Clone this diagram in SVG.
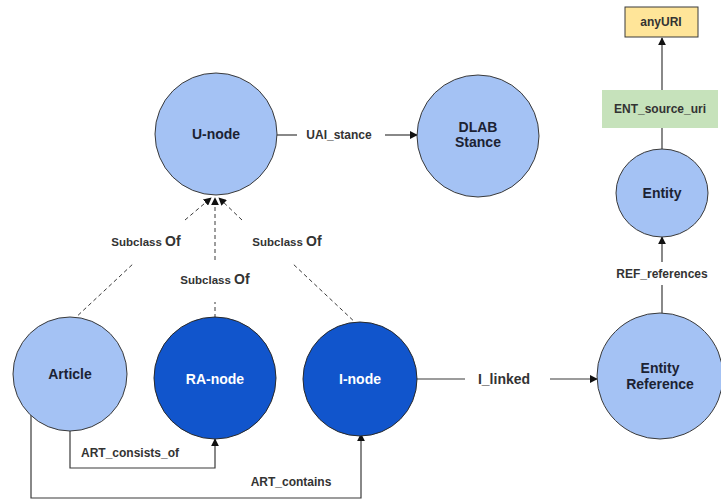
<svg xmlns="http://www.w3.org/2000/svg" width="721" height="500" viewBox="0 0 721 500">
  <style>
    .light { fill: #a4c2f4; stroke: #3a3a3a; stroke-width: 1; }
    .dark { fill: #1155cc; stroke: #2a2a2a; stroke-width: 1; }
    .nlabel { font-family: "Liberation Sans", Arial, sans-serif; font-size: 14px; font-weight: bold; fill: #1c2233; text-anchor: middle; }
    .wlabel { font-family: "Liberation Sans", Arial, sans-serif; font-size: 14px; font-weight: bold; fill: #ffffff; text-anchor: middle; }
    .elabel { font-family: "Liberation Sans", Arial, sans-serif; font-size: 12px; font-weight: bold; fill: #333333; text-anchor: middle; }
    .big { font-size: 14px; }
    .sub { font-family: "Liberation Sans", Arial, sans-serif; font-size: 11.5px; font-weight: bold; fill: #333333; text-anchor: middle; }
    .of { font-size: 14px; }
    .edge { fill: none; stroke: #3a3a3a; stroke-width: 1.2; }
    .dash { fill: none; stroke: #3a3a3a; stroke-width: 1; stroke-dasharray: 4 3; }
  </style>
  <defs>
    <marker id="arrow" viewBox="0 0 10 10" refX="9" refY="5" markerWidth="8" markerHeight="8" markerUnits="userSpaceOnUse" orient="auto">
      <path d="M0,0 L10,5 L0,10 z" fill="#111111"/>
    </marker>
  </defs>
  <rect width="721" height="500" fill="#ffffff"/>

  <g id="connectors">
    <!-- U-node to DLAB Stance -->
    <line class="edge" x1="277" y1="135" x2="297" y2="135"/>
    <line class="edge" x1="385" y1="135" x2="417" y2="135" marker-end="url(#arrow)"/>
    <text class="elabel" x="339" y="139">UAI_stance</text>

    <!-- Subclass Of: Article -->
    <line class="dash" x1="73" y1="320" x2="134" y2="263"/>
    <line class="dash" x1="185" y1="220" x2="211" y2="198" marker-end="url(#arrow)"/>
    <text class="sub" x="146" y="246">Subclass <tspan class="of">Of</tspan></text>

    <!-- Subclass Of: RA-node -->
    <line class="dash" x1="215" y1="318" x2="215" y2="302"/>
    <line class="dash" x1="215" y1="260" x2="215" y2="198" marker-end="url(#arrow)"/>
    <text class="sub" x="215" y="284">Subclass <tspan class="of">Of</tspan></text>

    <!-- Subclass Of: I-node -->
    <line class="dash" x1="358" y1="325" x2="292" y2="263"/>
    <line class="dash" x1="242" y1="220" x2="219" y2="198" marker-end="url(#arrow)"/>
    <text class="sub" x="287" y="246">Subclass <tspan class="of">Of</tspan></text>

    <!-- I_linked -->
    <line class="edge" x1="417" y1="379" x2="465" y2="379"/>
    <line class="edge" x1="550" y1="379" x2="597" y2="379" marker-end="url(#arrow)"/>
    <text class="elabel big" x="504" y="384">I_linked</text>

    <!-- ART_consists_of -->
    <polyline class="edge" points="70,427 70,468 215,468 215,439" marker-end="url(#arrow)"/>
    <text class="elabel" x="130" y="457">ART_consists_of</text>

    <!-- ART_contains -->
    <polyline class="edge" points="31,411 31,498 361,498 361,434" marker-end="url(#arrow)"/>
    <text class="elabel" x="291" y="486">ART_contains</text>

    <!-- REF_references -->
    <line class="edge" x1="662" y1="313" x2="662" y2="285"/>
    <line class="edge" x1="662" y1="262" x2="662" y2="237" marker-end="url(#arrow)"/>
    <text class="elabel" x="662" y="278">REF_references</text>

    <!-- ENT_source_uri -->
    <line class="edge" x1="662" y1="150" x2="662" y2="128"/>
    <line class="edge" x1="662" y1="90" x2="662" y2="38" marker-end="url(#arrow)"/>
  </g>

  <g id="ent-source-uri">
    <rect x="602" y="90" width="116" height="38" fill="#c6e2bb"/>
    <text class="elabel" x="660" y="113">ENT_source_uri</text>
  </g>

  <g id="anyuri">
    <rect x="625" y="7" width="73" height="30" fill="#ffe599" stroke="#3a3a3a" stroke-width="1"/>
    <text class="elabel" x="661" y="26">anyURI</text>
  </g>

  <g id="u-node">
    <circle class="light" cx="216" cy="134" r="61"/>
    <text class="nlabel" x="216" y="139">U-node</text>
  </g>

  <g id="dlab-stance">
    <circle class="light" cx="478" cy="136" r="61"/>
    <text class="nlabel" x="478" y="132">DLAB</text>
    <text class="nlabel" x="478" y="147">Stance</text>
  </g>

  <g id="entity">
    <ellipse class="light" cx="662" cy="193" rx="46" ry="44"/>
    <text class="nlabel" x="662" y="198">Entity</text>
  </g>

  <g id="entity-reference">
    <circle class="light" cx="660" cy="376" r="63"/>
    <text class="nlabel" x="660" y="373">Entity</text>
    <text class="nlabel" x="660" y="389">Reference</text>
  </g>

  <g id="article">
    <circle class="light" cx="70" cy="374" r="57"/>
    <text class="nlabel" x="70" y="379">Article</text>
  </g>

  <g id="ra-node">
    <circle class="dark" cx="215" cy="378" r="61"/>
    <text class="wlabel" x="215" y="384">RA-node</text>
  </g>

  <g id="i-node">
    <circle class="dark" cx="360" cy="379" r="57"/>
    <text class="wlabel" x="360" y="384">I-node</text>
  </g>
</svg>
